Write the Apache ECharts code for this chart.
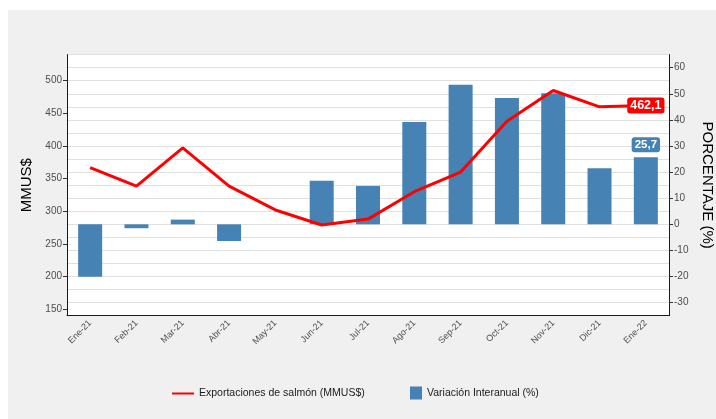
<!DOCTYPE html>
<html>
<head>
<meta charset="utf-8">
<script src="https://cdn.jsdelivr.net/npm/echarts@6/dist/echarts.min.js"></script>
<style>
html, body { margin: 0; background: #ffffff; }
#container { position: absolute; left: 8px; top: 10px; width: 708px; height: 409px; }
</style>
</head>
<body>
<div id="container"></div>
<script>
var meses = ['Ene-21', 'Feb-21', 'Mar-21', 'Abr-21', 'May-21', 'Jun-21', 'Jul-21',
             'Ago-21', 'Sep-21', 'Oct-21', 'Nov-21', 'Dic-21', 'Ene-22'];
// exportaciones de salmón, MMUS$ (eje izquierdo)
var exportaciones = [367, 338.5, 397, 338.5, 302, 279, 288, 330, 360, 438, 485, 460, 462.1];
// variación interanual, % (eje derecho)
var variacion = [-20.1, -1.5, 1.8, -6.4, 0, 16.7, 14.7, 39.2, 53.5, 48.4, 50.2, 21.5, 25.7];
// marcas de los ejes
var ticksMMUS = [150, 200, 250, 300, 350, 400, 450, 500];
var ticksPct = [-30, -20, -10, 0, 10, 20, 30, 40, 50, 60];

var myChart = echarts.init(document.getElementById('container'));

var fuente = 'Liberation Sans';
var gris = '#4d4d4d';

function coma(p) { return String(p.value).replace('.', ','); }

var lineData = exportaciones.map(function (v, i) {
    if (i === exportaciones.length - 1) {
        return {
            value: v,
            label: {
                show: true, position: 'inside', formatter: coma,
                color: '#fff', fontWeight: 'bold', fontSize: 12.5, fontFamily: fuente,
                backgroundColor: '#ff0000', borderRadius: 3, padding: [2, 3, 1, 3]
            }
        };
    }
    return v;
});

var barData = variacion.map(function (v, i) {
    if (i === variacion.length - 1) {
        return {
            value: v,
            label: {
                show: true, position: 'top', distance: 5, formatter: coma,
                color: '#fff', fontWeight: 'bold', fontSize: 11.5, fontFamily: fuente,
                backgroundColor: '#4682b4', borderRadius: 3, padding: [2, 3, 1, 3]
            }
        };
    }
    return v;
});

var option = {
    backgroundColor: '#f0f0f0',
    animation: false,
    textStyle: { fontFamily: fuente },
    grid: {
        left: 59, top: 44.6, width: 602, height: 261.1,
        outerBoundsMode: 'none',
        show: true, backgroundColor: '#ffffff', borderWidth: 0
    },
    legend: [
        {
            left: 164, top: 378, padding: 0,
            itemWidth: 22, itemHeight: 14, itemGap: 0,
            textStyle: { fontSize: 10.5, color: '#1a1a1a', fontFamily: fuente },
            data: [{ name: 'Exportaciones de salmón (MMUS$)', icon: 'path://M0,0 H22 V2 H0 Z' }]
        },
        {
            left: 402, top: 376.5, padding: 0,
            itemWidth: 12, itemHeight: 13, itemGap: 0,
            textStyle: { fontSize: 10.5, color: '#1a1a1a', fontFamily: fuente },
            data: [{ name: 'Variación Interanual (%)', icon: 'rect' }]
        }
    ],
    xAxis: {
        type: 'category',
        data: meses,
        axisLine: { onZero: false, lineStyle: { color: '#1a1a1a', width: 1 } },
        axisTick: { alignWithLabel: true, length: 4, lineStyle: { color: '#333' } },
        axisLabel: { rotate: 45, fontSize: 9, color: gris, margin: 6, interval: 0 },
        splitLine: { show: false }
    },
    yAxis: [
        {
            type: 'value',
            min: 140, max: 540,
            name: 'MMUS$', nameLocation: 'middle', nameGap: 32,
            nameTextStyle: { fontSize: 15, color: '#000' },
            axisLine: { show: true, lineStyle: { color: '#1a1a1a' } },
            axisTick: { show: true, length: 4, customValues: ticksMMUS, lineStyle: { color: '#333' } },
            axisLabel: { fontSize: 10, color: gris, margin: 5, customValues: ticksMMUS },
            splitLine: { show: false }
        },
        {
            type: 'value',
            min: -35, max: 65,
            name: 'PORCENTAJE (%)', nameLocation: 'middle', nameGap: 30, nameRotate: -90,
            nameTextStyle: { fontSize: 15, color: '#000' },
            axisLine: { show: true, lineStyle: { color: '#1a1a1a' } },
            axisTick: { show: true, length: 4, customValues: ticksPct, lineStyle: { color: '#333' } },
            axisLabel: { fontSize: 10, color: gris, margin: 5, customValues: ticksPct },
            splitLine: { show: false }
        },
        {
            // eje oculto sólo para la grilla cada 5 %
            type: 'value',
            position: 'right',
            min: -35, max: 65, interval: 5,
            axisLine: { show: false },
            axisTick: { show: false },
            axisLabel: { show: false },
            splitLine: { show: true, lineStyle: { color: '#e0e0e0', width: 1 } }
        }
    ],
    series: [
        {
            name: 'Variación Interanual (%)',
            type: 'bar',
            yAxisIndex: 1,
            barWidth: 24,
            itemStyle: { color: '#4682b4' },
            data: barData,
            z: 2
        },
        {
            name: 'Exportaciones de salmón (MMUS$)',
            type: 'line',
            yAxisIndex: 0,
            symbol: 'circle',
            symbolSize: 0.1,
            itemStyle: { color: '#ff0000' },
            lineStyle: { color: '#ff0000', width: 3 },
            data: lineData,
            z: 3
        }
    ]
};
myChart.setOption(option);
</script>
</body>
</html>
